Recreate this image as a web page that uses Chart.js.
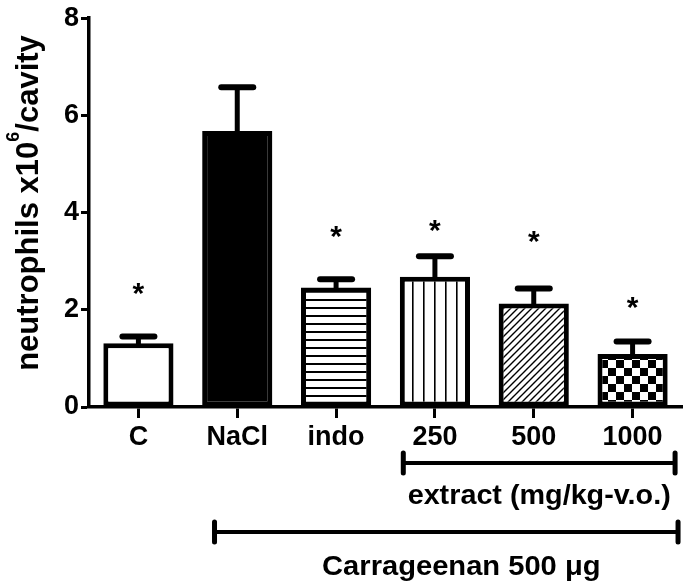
<!DOCTYPE html>
<html>
<head>
<meta charset="utf-8">
<script src="https://cdn.jsdelivr.net/npm/chart.js@4/dist/chart.umd.min.js"></script>
<style>
  html, body { margin: 0; padding: 0; background: #fff; }
  #wrap { width: 688px; height: 584px; }
</style>
</head>
<body>
<div id="wrap"><canvas id="myChart"></canvas></div>
<script>
const groups = ["C", "NaCl", "indo", "250", "500", "1000"];
const means = [1.31, 5.68, 2.46, 2.68, 2.13, 1.09];
const sems = [0.14, 0.90, 0.17, 0.42, 0.31, 0.26];
const starAt = [2.5, null, 3.67, 3.78, 3.56, 2.2];
const yTicks = [0, 2, 4, 6, 8];

const bracketLabels = ["extract (mg/kg-v.o.)", "Carrageenan 500 \u03bcg"];
const bracketFrom = [3, 1];
const bracketTo = [5, 5];

const FONT = "'Liberation Sans', Arial, sans-serif";

function makePattern(kind) {
    const c = document.createElement("canvas");
    const g = c.getContext("2d");
    let s = 8;
    if (kind === "vert") s = 11;
    if (kind === "diag") s = 7;
    if (kind === "check") s = 16;
    c.width = s;
    c.height = s;
    g.fillStyle = "#fff";
    g.fillRect(0, 0, s, s);
    g.fillStyle = "#000";
    g.strokeStyle = "#000";
    if (kind === "horiz") {
        g.fillRect(0, 3, s, 2);
    } else if (kind === "vert") {
        g.fillRect(5, 0, 1.6, s);
    } else if (kind === "diag") {
        g.lineWidth = 1.4;
        g.beginPath();
        g.moveTo(-1, s + 1); g.lineTo(s + 1, -1);
        g.moveTo(-1, 1); g.lineTo(1, -1);
        g.moveTo(s - 1, s + 1); g.lineTo(s + 1, s - 1);
        g.stroke();
    } else if (kind === "check") {
        g.fillRect(0, 0, 8, 8);
        g.fillRect(8, 8, 8, 8);
    }
    return g.createPattern(c, "repeat");
}

const fills = ["#fff", "#000", makePattern("horiz"), makePattern("vert"), makePattern("diag"), makePattern("check")];

// text slightly widened, like the original figure
function wideText(ctx, text, x, y, size, sx) {
    ctx.save();
    ctx.translate(x, y);
    ctx.scale(sx, 1);
    ctx.font = "bold " + size + "px " + FONT;
    ctx.fillText(text, 0, 0);
    ctx.restore();
}

const extras = {
    id: "extras",
    afterDatasetsDraw(chart) {
        const ctx = chart.ctx;
        const ys = chart.scales.y;
        const meta = chart.getDatasetMeta(0);
        ctx.save();
        ctx.strokeStyle = "#000";
        ctx.fillStyle = "#000";
        meta.data.forEach((bar, i) => {
            const top = ys.getPixelForValue(means[i] + sems[i]);
            ctx.lineWidth = 5;
            ctx.lineCap = "butt";
            ctx.beginPath();
            ctx.moveTo(bar.x, bar.y + 2);
            ctx.lineTo(bar.x, top);
            ctx.stroke();
            ctx.lineWidth = 6;
            ctx.lineCap = "round";
            ctx.beginPath();
            ctx.moveTo(bar.x - 16, top);
            ctx.lineTo(bar.x + 16, top);
            ctx.stroke();
            if (starAt[i] != null) {
                ctx.font = "bold 30px " + FONT;
                ctx.textAlign = "center";
                ctx.textBaseline = "alphabetic";
                ctx.fillText("*", bar.x, ys.getPixelForValue(starAt[i]) + 17);
            }
        });
        ctx.restore();
    },
    afterDraw(chart) {
        const ctx = chart.ctx;
        const xs = chart.scales.x;
        const step = xs.getPixelForValue(1) - xs.getPixelForValue(0);
        const rows = [
            { y: 463, ty: 497, l: -0.32, r: 0.43, size: 27, sx: 1.065, tx: 0 },
            { y: 532, ty: 567, l: -0.23, r: 0.46, size: 28, sx: 1.04, tx: 15 }
        ];
        ctx.save();
        ctx.strokeStyle = "#000";
        ctx.fillStyle = "#000";
        rows.forEach((row, k) => {
            const x1 = xs.getPixelForValue(bracketFrom[k]) + row.l * step;
            const x2 = xs.getPixelForValue(bracketTo[k]) + row.r * step;
            ctx.lineWidth = 4;
            ctx.lineCap = "butt";
            ctx.beginPath();
            ctx.moveTo(x1, row.y);
            ctx.lineTo(x2, row.y);
            ctx.stroke();
            ctx.lineWidth = 5;
            ctx.lineCap = "round";
            ctx.beginPath();
            ctx.moveTo(x1, row.y - 10);
            ctx.lineTo(x1, row.y + 10);
            ctx.moveTo(x2, row.y - 10);
            ctx.lineTo(x2, row.y + 10);
            ctx.stroke();
            ctx.textAlign = "center";
            ctx.textBaseline = "middle";
            wideText(ctx, bracketLabels[k], (x1 + x2) / 2 + row.tx, row.ty, row.size, row.sx);
        });

        // y axis title with superscript
        ctx.translate(38, 203);
        ctx.rotate(-Math.PI / 2);
        const main = "neutrophils x10";
        const sup = "6";
        const rest = "/cavity";
        const big = "bold 31px " + FONT;
        const small = "bold 18px " + FONT;
        ctx.font = big;
        const w1 = ctx.measureText(main).width;
        const w3 = ctx.measureText(rest).width;
        ctx.font = small;
        const w2 = ctx.measureText(sup).width;
        let x = -(w1 + w2 + w3) / 2;
        ctx.textAlign = "left";
        ctx.textBaseline = "alphabetic";
        ctx.font = big;
        ctx.fillText(main, x, 0);
        x += w1;
        ctx.font = small;
        ctx.fillText(sup, x, -19);
        x += w2;
        ctx.font = big;
        ctx.fillText(rest, x, 0);
        ctx.restore();
    }
};

const data = {
    labels: groups,
    datasets: [
        {
            data: means,
            backgroundColor: fills,
            borderColor: "#000",
            borderWidth: 5,
            borderSkipped: false,
            barPercentage: 0.71,
            categoryPercentage: 1.0
        }
    ]
};

const config = {
    type: "bar",
    data: data,
    options: {
        responsive: false,
        animation: false,
        layout: { padding: { top: 17, right: 6, left: 0, bottom: 0 } },
        plugins: {
            legend: { display: false },
            tooltip: { enabled: false }
        },
        scales: {
            x: {
                grid: { display: true, offset: false, drawOnChartArea: false, drawTicks: true, tickLength: 11, tickWidth: 3, tickColor: "#000" },
                border: { display: true, color: "#000", width: 3.5 },
                ticks: { color: "#000", font: { family: FONT, weight: "bold", size: 27 }, padding: 3, maxRotation: 0 },
                afterFit(scale) { scale.height = 177; }
            },
            y: {
                min: 0,
                max: 8,
                afterBuildTicks(scale) { scale.ticks = yTicks.map(v => ({ value: v })); },
                grid: { display: true, drawOnChartArea: false, drawTicks: true, tickLength: 8, tickWidth: 3, tickColor: "#000" },
                border: { display: true, color: "#000", width: 3.5 },
                ticks: { color: "#000", font: { family: FONT, weight: "bold", size: 27 }, padding: 2 },
                afterFit(scale) { scale.width = 89; }
            }
        }
    },
    plugins: [extras]
};

const cv = document.getElementById("myChart");
cv.width = 688;
cv.height = 584;
new Chart(cv, config);
</script>
</body>
</html>
